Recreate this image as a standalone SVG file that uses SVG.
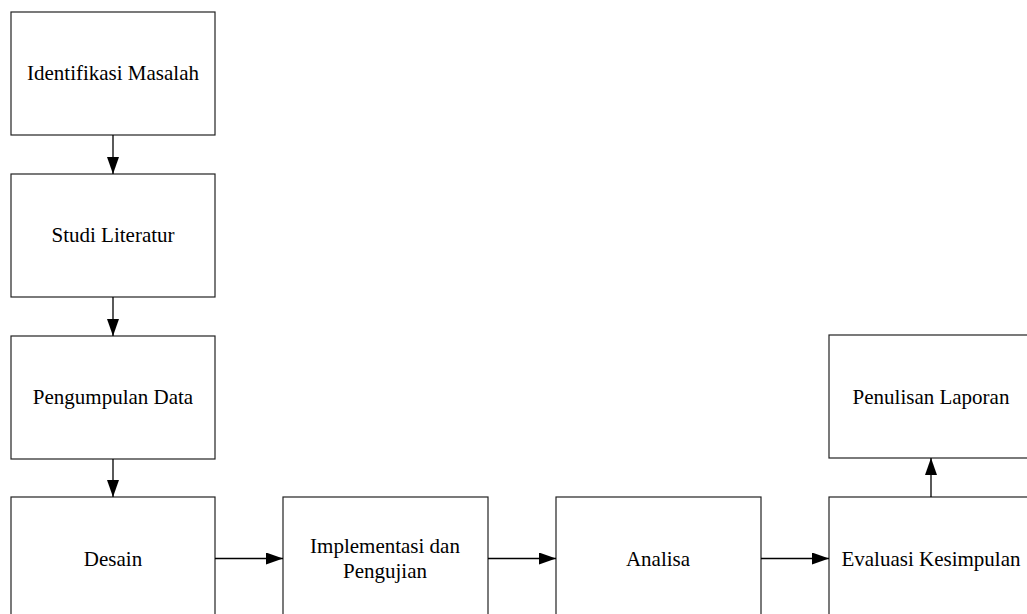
<svg xmlns="http://www.w3.org/2000/svg" width="1027" height="614" viewBox="0 0 1027 614">
<style>
.box{fill:#fff;stroke:#222;stroke-width:1.2}
.lbl{font-family:"Liberation Serif","Times New Roman",serif;font-size:21px;fill:#000;text-anchor:middle}
.con{stroke:#000;stroke-width:1.3;fill:none;marker-end:url(#ah)}
</style>
<defs>
<marker id="ah" markerWidth="17" markerHeight="12" refX="17" refY="6" orient="auto" markerUnits="userSpaceOnUse">
<path d="M0,0 L17,6 L0,12 Z" fill="#000"/>
</marker>
</defs>
<rect width="1027" height="614" fill="#fff"/>
<g id="n1"><rect class="box" x="11" y="12" width="204" height="123"/><text class="lbl" x="113" y="80">Identifikasi Masalah</text></g>
<g id="n2"><rect class="box" x="11" y="174" width="204" height="123"/><text class="lbl" x="113" y="242">Studi Literatur</text></g>
<g id="n3"><rect class="box" x="11" y="336" width="204" height="123"/><text class="lbl" x="113" y="404">Pengumpulan Data</text></g>
<g id="n4"><rect class="box" x="11" y="497" width="204" height="130"/><text class="lbl" x="113" y="566">Desain</text></g>
<g id="n5"><rect class="box" x="283" y="497" width="205" height="130"/><text class="lbl" x="385" y="553">Implementasi dan</text><text class="lbl" x="385" y="578">Pengujian</text></g>
<g id="n6"><rect class="box" x="556" y="497" width="205" height="130"/><text class="lbl" x="658" y="566">Analisa</text></g>
<g id="n7"><rect class="box" x="829" y="497" width="205" height="130"/><text class="lbl" x="931" y="566">Evaluasi Kesimpulan</text></g>
<g id="n8"><rect class="box" x="829" y="335" width="205" height="123"/><text class="lbl" x="931" y="404">Penulisan Laporan</text></g>
<g id="connectors">
<line class="con" x1="113" y1="135" x2="113" y2="174"/>
<line class="con" x1="113" y1="297" x2="113" y2="336"/>
<line class="con" x1="113" y1="459" x2="113" y2="497"/>
<line class="con" x1="215" y1="558.5" x2="283" y2="558.5"/>
<line class="con" x1="488" y1="558.5" x2="556" y2="558.5"/>
<line class="con" x1="761" y1="558.5" x2="829" y2="558.5"/>
<line class="con" x1="931" y1="497" x2="931" y2="458"/>
</g>
</svg>
